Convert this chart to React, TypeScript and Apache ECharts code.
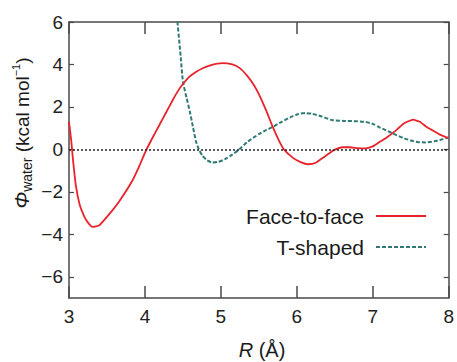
import React, { useEffect, useRef } from "react";
import * as echarts from "echarts";

const ffR = [3.0, 3.03, 3.05, 3.09, 3.14, 3.2, 3.25, 3.31, 3.4, 3.53, 3.66, 3.83, 3.93, 4.01, 4.1, 4.19, 4.28, 4.37, 4.44, 4.5, 4.58, 4.67, 4.76, 4.85, 5.02, 5.15, 5.24, 5.35, 5.44, 5.5, 5.6, 5.68, 5.76, 5.83, 5.95, 6.05, 6.15, 6.25, 6.35, 6.45, 6.51, 6.6, 6.7, 6.8, 6.9, 7.0, 7.07, 7.18, 7.29, 7.41, 7.53, 7.62, 7.7, 7.77, 7.87, 7.97, 8.0];
const ffPhi = [1.3, 0.4, -0.4, -1.7, -2.6, -3.15, -3.45, -3.65, -3.57, -3.05, -2.45, -1.5, -0.75, -0.08, 0.55, 1.15, 1.75, 2.35, 2.78, 3.08, 3.4, 3.64, 3.82, 3.95, 4.06, 4.0, 3.85, 3.45, 3.0, 2.6, 1.8, 1.08, 0.45, 0.0, -0.4, -0.6, -0.7, -0.63, -0.38, -0.12, 0.0, 0.1, 0.1, 0.06, 0.05, 0.14, 0.3, 0.55, 0.85, 1.22, 1.4, 1.3, 1.08, 0.93, 0.72, 0.57, 0.55];

const tsR = [4.42, 4.47, 4.5, 4.55, 4.59, 4.63, 4.67, 4.71, 4.76, 4.82, 4.89, 4.97, 5.05, 5.15, 5.24, 5.35, 5.5, 5.6, 5.68, 5.8, 5.92, 6.02, 6.11, 6.2, 6.32, 6.46, 6.62, 6.75, 6.9, 7.0, 7.1, 7.2, 7.25, 7.4, 7.5, 7.6, 7.7, 7.82, 7.92, 8.0];
const tsPhi = [6.3, 4.4, 3.2, 2.4, 1.8, 1.1, 0.4, 0.0, -0.31, -0.52, -0.62, -0.58, -0.47, -0.25, 0.0, 0.35, 0.72, 0.92, 1.05, 1.3, 1.52, 1.67, 1.71, 1.68, 1.56, 1.38, 1.34, 1.33, 1.3, 1.2, 1.02, 0.86, 0.77, 0.54, 0.42, 0.34, 0.33, 0.39, 0.48, 0.56];

const xTicks = [3, 4, 5, 6, 7, 8];
const yTicks = [-6, -4, -2, 0, 2, 4, 6];
const seriesNames = ["Face-to-face", "T-shaped"];

const FONT = "'Liberation Sans', Arial, Helvetica, sans-serif";
const AXIS_COLOR = "#4a4a4a";

export default function App() {
  const ref = useRef<HTMLDivElement>(null);
  useEffect(() => {
    if (!ref.current) return;
    const chart = echarts.init(ref.current, null, { renderer: "svg" });
    const minus = (v: number) => String(v).replace("-", "\u2212");
    const baseX = {
      type: "value" as const,
      min: 3,
      max: 8,
      splitLine: { show: false },
      axisLine: { show: true, onZero: false, lineStyle: { color: AXIS_COLOR, width: 1.5 } },
      axisTick: { show: true, inside: true, length: 12, customValues: xTicks, lineStyle: { color: AXIS_COLOR, width: 1.5 } },
    };
    const baseY = {
      type: "value" as const,
      min: -7,
      max: 6,
      splitLine: { show: false },
      axisLine: { show: true, onZero: false, lineStyle: { color: AXIS_COLOR, width: 1.5 } },
      axisTick: { show: true, inside: true, length: 5, customValues: yTicks, lineStyle: { color: AXIS_COLOR, width: 1.2 } },
    };
    chart.setOption({
      animation: false,
      backgroundColor: "#ffffff",
      grid: { left: 69, right: 6, top: 22, bottom: 64, containLabel: false },
      xAxis: [
        {
          ...baseX,
          position: "bottom",
          axisLabel: { show: true, customValues: xTicks, margin: 9, fontSize: 19, color: "#222", fontFamily: FONT },
        },
        { ...baseX, position: "top", axisLabel: { show: false } },
      ],
      yAxis: [
        {
          ...baseY,
          position: "left",
          axisLabel: { show: true, customValues: yTicks, margin: 6, fontSize: 19, color: "#222", fontFamily: FONT, formatter: minus },
        },
        { ...baseY, position: "right", axisLabel: { show: false } },
      ],
      legend: {
        orient: "vertical",
        right: 25,
        top: 198,
        align: "right",
        itemWidth: 50,
        itemHeight: 14,
        itemGap: 5,
        itemStyle: { opacity: 0 },
        textStyle: { fontSize: 21, color: "#1a1a1a", fontFamily: FONT, lineHeight: 26, padding: [0, 7, 0, 0] },
        data: seriesNames,
      },
      graphic: [
        {
          type: "text",
          x: 22,
          y: 133,
          rotation: Math.PI / 2,
          style: {
            text: "{phi|\u03A6}{sub|water}{m| (kcal mol}{sup|\u22121}{m|)}",
            align: "center",
            verticalAlign: "middle",
            fill: "#1a1a1a",
            fontFamily: FONT,
            rich: {
              phi: { fontSize: 20, fontStyle: "italic", fontFamily: FONT, fill: "#1a1a1a", lineHeight: 24 },
              sub: { fontSize: 14, fontFamily: FONT, fill: "#1a1a1a", verticalAlign: "bottom", lineHeight: 14 },
              m: { fontSize: 19, fontFamily: FONT, fill: "#1a1a1a", lineHeight: 24 },
              sup: { fontSize: 11, fontFamily: FONT, fill: "#1a1a1a", verticalAlign: "top", lineHeight: 11 },
            },
          },
        },
        {
          type: "text",
          x: 262,
          y: 350,
          style: {
            text: "{r|R}{m| (\u00C5)}",
            align: "center",
            verticalAlign: "middle",
            fill: "#1a1a1a",
            rich: {
              r: { fontSize: 20, fontStyle: "italic", fontFamily: FONT, fill: "#1a1a1a" },
              m: { fontSize: 20, fontFamily: FONT, fill: "#1a1a1a" },
            },
          },
        },
      ],
      series: [
        {
          name: seriesNames[0],
          type: "line",
          data: ffR.map((r, i) => [r, ffPhi[i]]),
          showSymbol: false,
          symbol: "none",
          smooth: 0.15,
          lineStyle: { color: "#e8232b", width: 1.8 },
          itemStyle: { color: "#e8232b" },
          z: 3,
          markLine: {
            silent: true,
            symbol: ["none", "none"],
            label: { show: false },
            lineStyle: { type: [2, 2], color: "#222", width: 1.5 },
            data: [{ yAxis: 0 }],
          },
        },
        {
          name: seriesNames[1],
          type: "line",
          data: tsR.map((r, i) => [r, tsPhi[i]]),
          showSymbol: false,
          symbol: "none",
          smooth: 0.2,
          lineStyle: { color: "#2f7a74", width: 2, type: [4, 2] },
          itemStyle: { color: "#2f7a74" },
          z: 2,
        },
      ],
    });
    return () => chart.dispose();
  }, []);
  return <div ref={ref} style={{ width: 457, height: 362, position: "absolute", left: 0, top: 0 }} />;
}
